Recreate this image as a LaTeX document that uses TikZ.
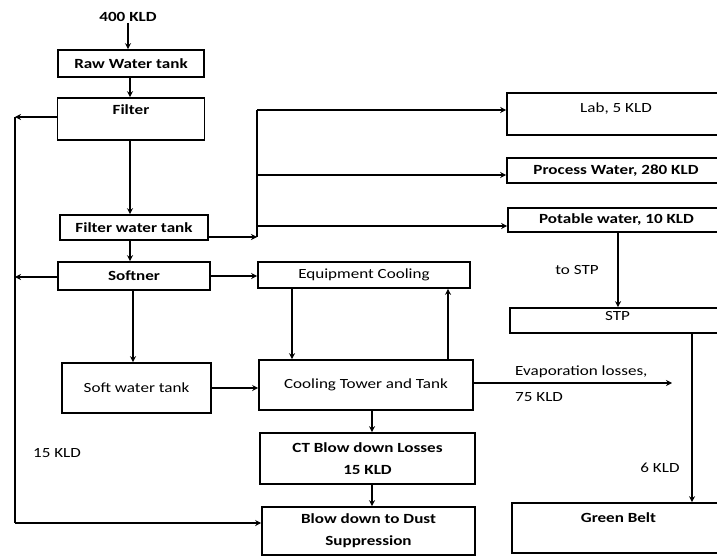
\documentclass[tikz,border=0pt]{standalone}
\usepackage{fontspec}
\setmainfont{Carlito}[FakeStretch=1.22]
\usetikzlibrary{arrows.meta}

\begin{document}
\begin{tikzpicture}[x=1pt,y=-1pt,
  box/.style={draw, line width=1.6pt, inner sep=0pt, align=center,
    font=\fontsize{14}{22}\selectfont\bfseries},
  lightbox/.style={box, font=\fontsize{14}{22}\selectfont},
  lift/.style={text height=10pt, text depth=#1},
  lbl/.style={inner sep=1pt, font=\fontsize{14}{16}\selectfont},
  line/.style={line width=1.3pt},
  arr/.style={line, -{Stealth[length=6pt,width=6pt]}}]

\useasboundingbox (0,0) rectangle (717,556);
\clip (0,0) rectangle (717,556);

% main treatment chain
\node[lbl, font=\fontsize{14}{16}\selectfont\bfseries] (in) at (128,17) {400 KLD};
\node[box, minimum width=146pt, minimum height=27pt] (raw) at (131,63.5) {Raw Water tank};
\node[box, lift=19pt, minimum width=147pt, minimum height=42pt] (filter) at (131,119) {Filter};
\node[box, minimum width=148pt, minimum height=25pt] (fwt) at (134,227.5) {Filter water tank};
\node[box, minimum width=152pt, minimum height=28pt] (soft) at (134,276) {Softner};
\node[lightbox, minimum width=149pt, minimum height=50pt] (swt) at (136.5,388) {Soft water tank};

% cooling circuit
\node[lightbox, minimum width=212pt, minimum height=26pt] (eqc) at (364,275) {Equipment Cooling};
\node[lightbox, minimum width=214pt, minimum height=50pt] (ct) at (366,385) {Cooling Tower and Tank};
\node[box, minimum width=215pt, minimum height=51pt] (ctb) at (367.5,458.5) {CT Blow down Losses\\15 KLD};
\node[box, minimum width=213pt, minimum height=48pt] (blow) at (368.5,531) {Blow down to Dust\\Suppression};

% consumers on the right
\node[lightbox, lift=13pt, minimum width=218pt, minimum height=42pt] (lab) at (616,114) {Lab, 5 KLD};
\node[box, minimum width=218pt, minimum height=25pt] (proc) at (616,170.5) {Process Water, 280 KLD};
\node[box, minimum width=217pt, minimum height=24pt] (pot) at (616.5,220) {Potable water, 10 KLD};
\node[lightbox, lift=10pt, minimum width=215pt, minimum height=25pt] (stp) at (617.5,320.5) {STP};
\node[box, lift=21pt, minimum width=213pt, minimum height=50pt] (green) at (618.5,528) {Green Belt};

% free labels
\node[lbl] (kld15) at (57,453) {15 KLD};
\node[lbl, anchor=west] (evl) at (514,372) {Evaporation losses,};
\node[lbl, anchor=west] (evq) at (514,397) {75 KLD};
\node[lbl] (tostp) at (577,270) {to STP};
\node[lbl] (kld6) at (660,468) {6 KLD};

% helper points
\coordinate (lt) at (15,117);
\coordinate (ls) at (15,277);
\coordinate (lb) at (15,523);
\coordinate (fj) at (257,237);
\coordinate (ft) at (257,110);
\coordinate (fp) at (257,175);
\coordinate (fq) at (257,226);
\coordinate (ev) at (672,383);
\coordinate (xa) at (292,0);
\coordinate (xb) at (448,0);
\coordinate (xc) at (372,0);
\coordinate (xd) at (618,0);
\coordinate (xe) at (692,0);

% vertical treatment flow
\draw[arr] (in.south) -- (in.south |- raw.north);
\draw[arr] ([xshift=-1pt]raw.south) -- ([xshift=-1pt]raw.south |- filter.north);
\draw[arr] ([xshift=-1pt]filter.south) -- ([xshift=-1pt]filter.south |- fwt.north);
\draw[arr] ([xshift=-4pt]fwt.south) -- ([xshift=-4pt]fwt.south |- soft.north);
\draw[arr] ([xshift=-1pt]soft.south) -- ([xshift=-1pt]soft.south |- swt.north);

% backwash / regeneration return line
\draw[arr] (filter.west |- lt) -- (lt);
\draw[arr] (soft.west |- ls) -- (ls);
\draw[line] (lt) -- (lb);
\draw[arr] (lb) -- (lb -| blow.west);

% filtered water distribution
\draw[arr] (fwt.east |- fj) -- (fj);
\draw[line] (fj) -- (ft);
\draw[arr] (ft) -- (ft -| lab.west);
\draw[arr] (fp) -- (fp -| proc.west);
\draw[arr] (fq) -- (fq -| pot.west);

% cooling circuit
\draw[arr] (soft.east) -- (soft.east -| eqc.west);
\draw[arr] (eqc.south -| xa) -- (ct.north -| xa);
\draw[arr] (ct.north -| xb) -- (eqc.south -| xb);
\draw[arr] (swt.east) -- (swt.east -| ct.west);
\draw[arr] (ct.south -| xc) -- (ctb.north -| xc);
\draw[arr] (ctb.south -| xc) -- (blow.north -| xc);
\draw[arr] (ct.east |- ev) -- (ev);

% sewage path
\draw[arr] (pot.south -| xd) -- (stp.north -| xd);
\draw[arr] (stp.south -| xe) -- (green.north -| xe);

\end{tikzpicture}
\end{document}
